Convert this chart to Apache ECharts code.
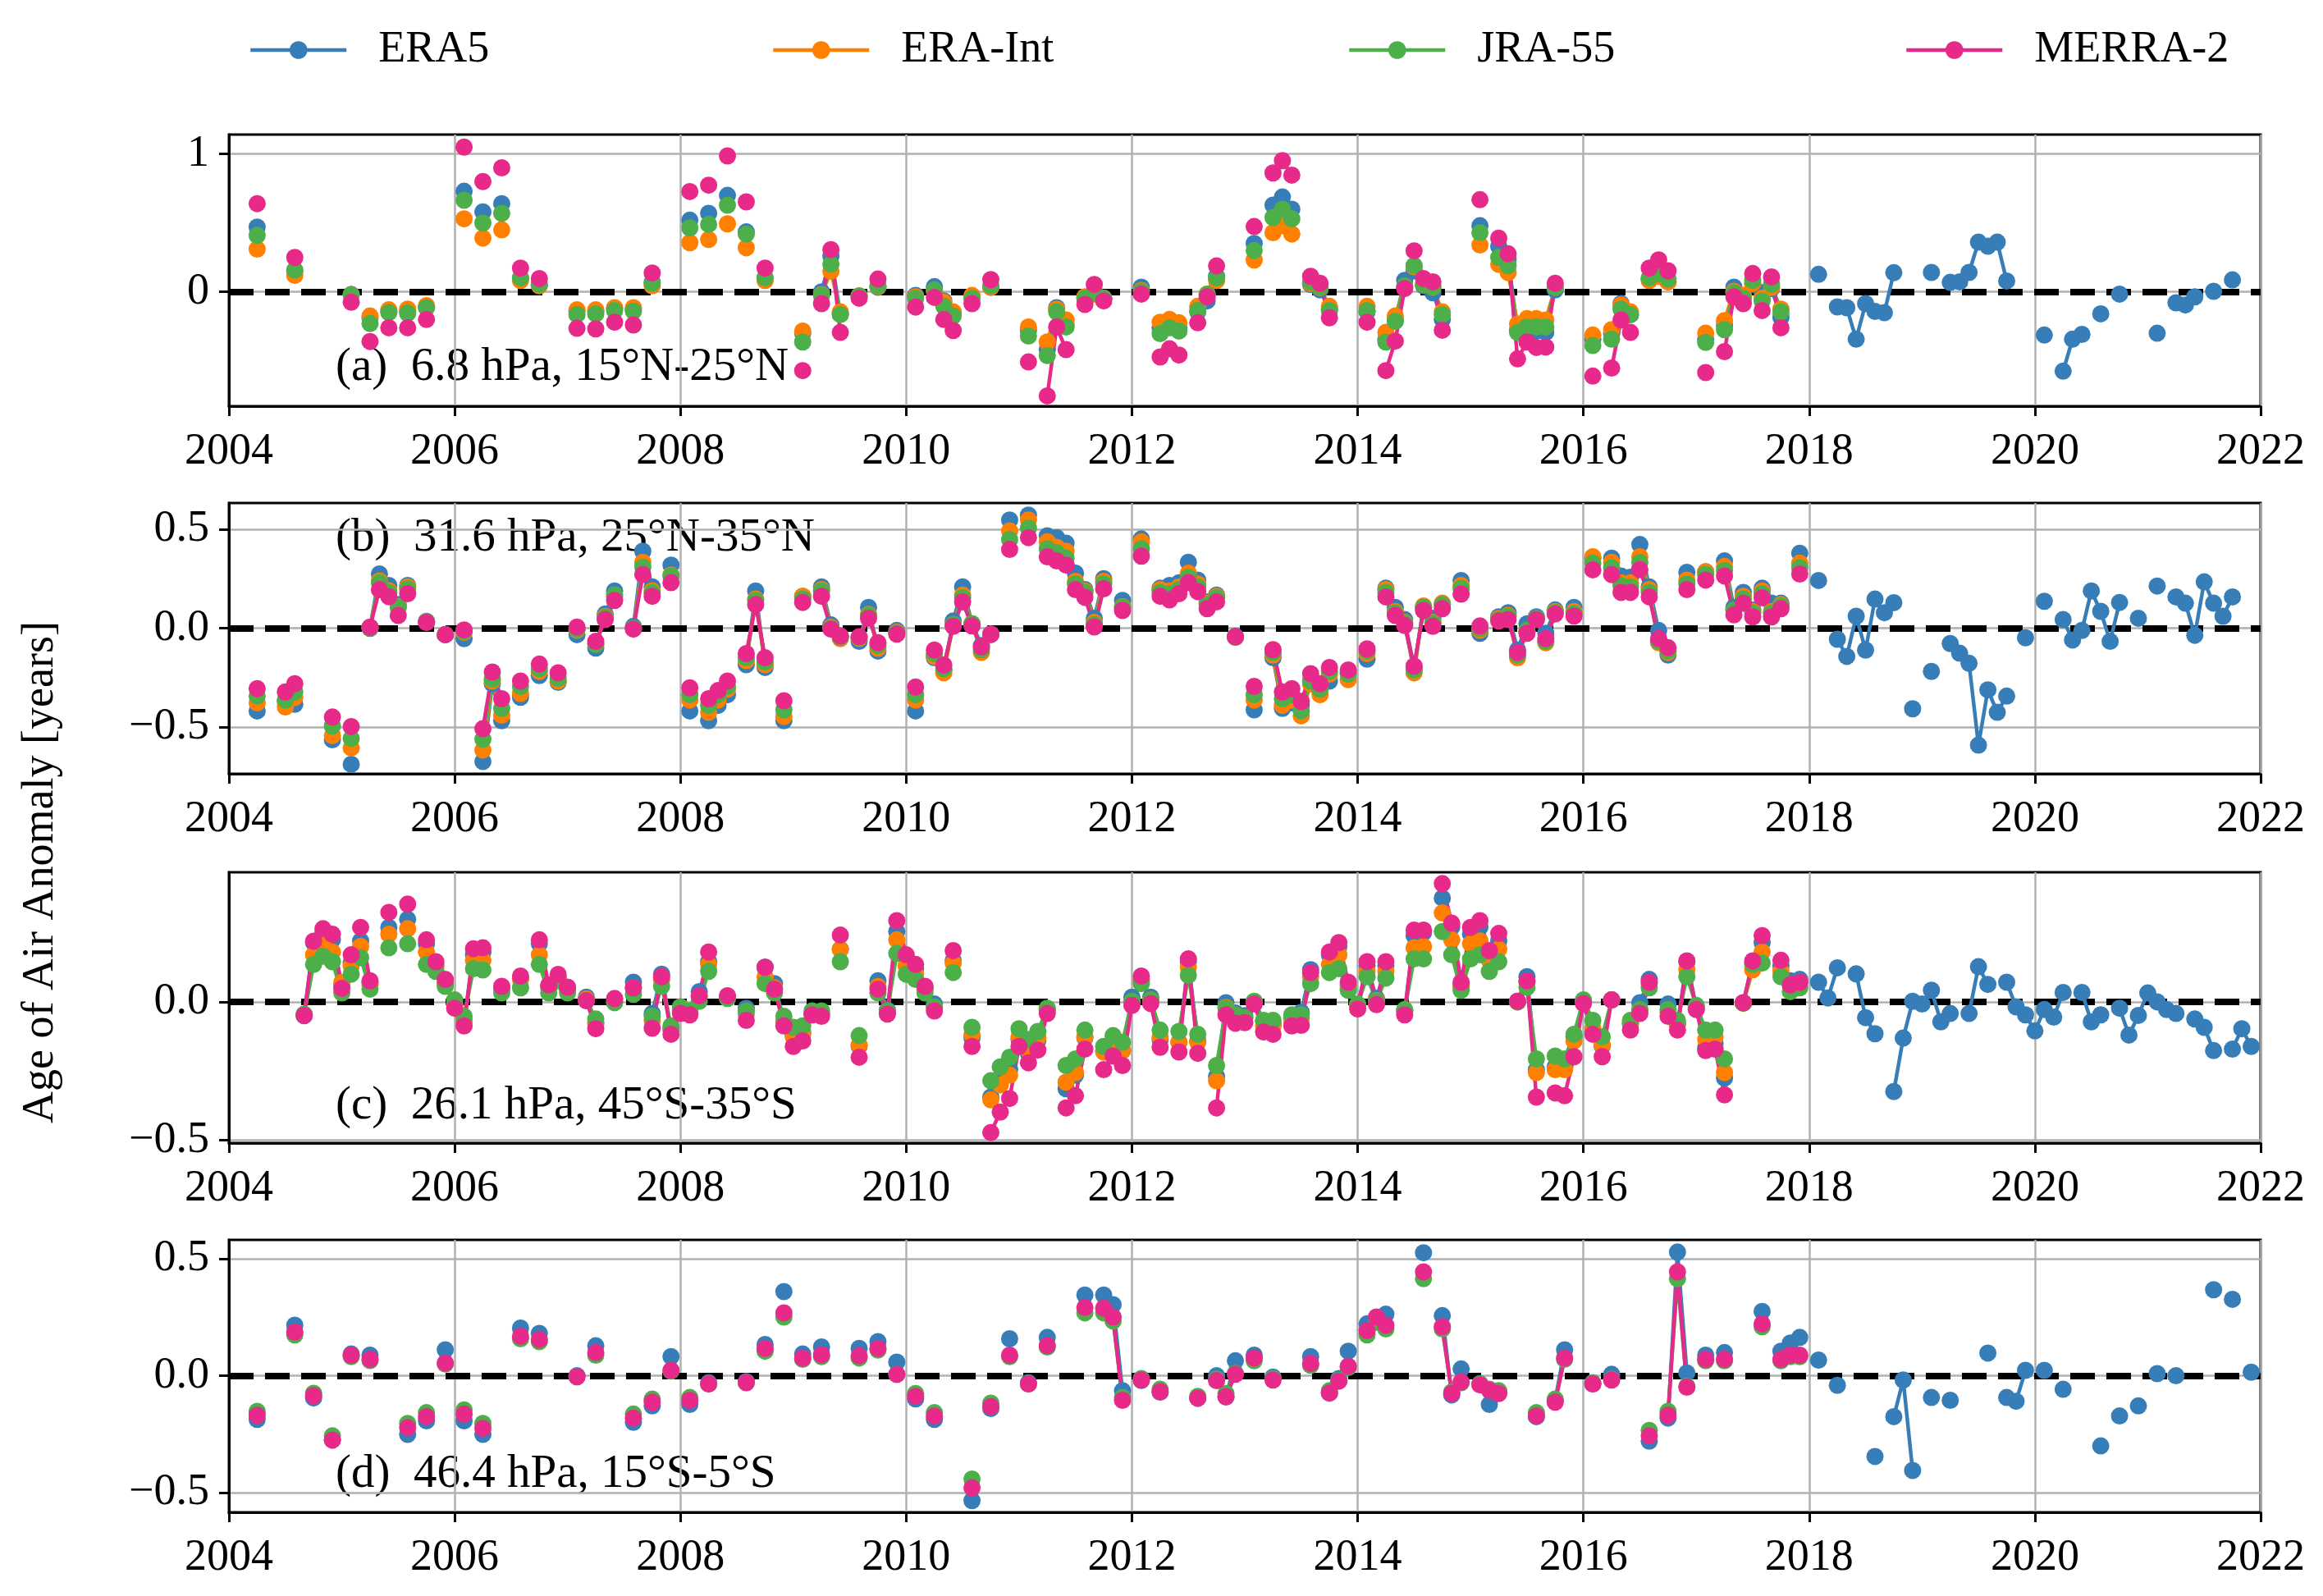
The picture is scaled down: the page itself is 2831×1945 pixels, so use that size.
<!DOCTYPE html>
<html><head><meta charset="utf-8">
<script src="https://cdn.jsdelivr.net/npm/echarts@6/dist/echarts.min.js"></script>
<style>html,body{margin:0;padding:0;background:#fff}#c{width:2831px;height:1945px}</style>
</head><body><div id="c"></div>
<script>
const seriesNames = ['ERA5', 'ERA-Int', 'JRA-55', 'MERRA-2'];
const seriesColors = ['#377eb8', '#ff7f00', '#4daf4a', '#e7298a'];
const panelLabels = ['(a)  6.8 hPa, 15°N-25°N', '(b)  31.6 hPa, 25°N-35°N', '(c)  26.1 hPa, 45°S-35°S', '(d)  46.4 hPa, 15°S-5°S'];
const yTicksA = [0, 1];
const yTicksB = [-0.5, 0, 0.5];
const yTicksC = [-0.5, 0];
const yTicksD = [-0.5, 0, 0.5];
const yTitle = 'Age of Air Anomaly [years]';

// ---------- Panel (a) ----------
const a_months = ['2004-04','2004-08',
'2005-02','2005-04','2005-06','2005-08','2005-10',
'2006-02','2006-04','2006-06','2006-08','2006-10',
'2007-02','2007-04','2007-06','2007-08','2007-10',
'2008-02','2008-04','2008-06','2008-08','2008-10',
'2009-02','2009-04','2009-05','2009-06','2009-08','2009-10',
'2010-02','2010-04','2010-05','2010-06','2010-08','2010-10',
'2011-02','2011-04','2011-05','2011-06','2011-08','2011-09','2011-10',
'2012-02','2012-04','2012-05','2012-06','2012-08','2012-09','2012-10',
'2013-02','2013-04','2013-05','2013-06','2013-08','2013-09','2013-10',
'2014-02','2014-04','2014-05','2014-06','2014-07','2014-08','2014-09','2014-10',
'2015-02','2015-04','2015-05','2015-06','2015-07','2015-08','2015-09','2015-10',
'2016-02','2016-04','2016-05','2016-06','2016-08','2016-09','2016-10',
'2017-02','2017-04','2017-05','2017-06','2017-07','2017-08','2017-09','2017-10'];
const a_era5 = [0.47,0.15,
-0.02,-0.19,-0.14,-0.14,-0.11,
0.73,0.58,0.64,0.10,0.05,
-0.14,-0.14,-0.12,-0.13,0.07,
0.52,0.57,0.70,0.435,0.10,
-0.30,0.0,0.26,-0.16,-0.03,0.034,
-0.025,0.038,-0.065,-0.155,-0.036,0.034,
-0.28,-0.42,-0.115,-0.24,-0.046,0.0,-0.046,
0.034,-0.26,-0.244,-0.26,-0.145,-0.065,0.113,
0.351,0.629,0.688,0.60,0.054,0.014,-0.125,
-0.145,-0.343,-0.204,0.083,0.153,0.044,-0.006,-0.2,
0.48,0.33,0.24,-0.28,-0.254,-0.284,-0.294,0.014,
-0.343,-0.303,-0.085,-0.165,0.093,0.12,0.073,
-0.343,-0.244,0.034,-0.03,0.054,-0.006,0.024,-0.185];
const a_eraint = [0.31,0.12,
-0.02,-0.175,-0.13,-0.125,-0.10,
0.53,0.39,0.45,0.083,0.044,
-0.13,-0.13,-0.115,-0.115,0.044,
0.357,0.38,0.494,0.32,0.083,
-0.284,-0.02,0.15,-0.145,-0.03,0.04,
-0.036,0.004,-0.075,-0.145,-0.026,0.034,
-0.254,-0.363,-0.125,-0.204,-0.036,-0.016,-0.046,
0.01,-0.22,-0.2,-0.224,-0.105,-0.016,0.083,
0.232,0.43,0.48,0.42,0.063,0.03,-0.105,
-0.105,-0.294,-0.175,0.034,0.183,0.054,0.034,-0.145,
0.34,0.20,0.14,-0.234,-0.194,-0.194,-0.204,0.034,
-0.313,-0.274,-0.095,-0.145,0.083,0.113,0.073,
-0.30,-0.208,0.004,-0.026,0.063,-0.046,0.034,-0.125];
const a_jra55 = [0.41,0.16,
-0.02,-0.23,-0.15,-0.155,-0.115,
0.665,0.50,0.57,0.103,0.054,
-0.165,-0.16,-0.135,-0.14,0.063,
0.464,0.49,0.629,0.42,0.103,
-0.363,-0.025,0.20,-0.165,-0.03,0.044,
-0.046,0.014,-0.105,-0.175,-0.046,0.044,
-0.32,-0.462,-0.145,-0.254,-0.046,-0.006,-0.046,
0.004,-0.303,-0.26,-0.284,-0.135,-0.016,0.103,
0.30,0.54,0.60,0.53,0.073,0.034,-0.135,
-0.135,-0.363,-0.214,0.044,0.19,0.054,0.034,-0.165,
0.43,0.25,0.19,-0.294,-0.254,-0.254,-0.254,0.034,
-0.389,-0.343,-0.125,-0.165,0.103,0.133,0.093,
-0.367,-0.274,-0.006,-0.046,0.083,-0.065,0.054,-0.145];
const a_merra2 = [0.64,0.25,
-0.075,-0.36,-0.26,-0.26,-0.20,
1.05,0.80,0.90,0.173,0.097,
-0.264,-0.268,-0.22,-0.24,0.137,
0.728,0.774,0.986,0.653,0.173,
-0.571,-0.085,0.307,-0.294,-0.046,0.093,
-0.11,-0.04,-0.20,-0.28,-0.085,0.089,
-0.508,-0.754,-0.254,-0.419,-0.091,0.054,-0.065,
-0.016,-0.472,-0.413,-0.458,-0.224,-0.036,0.188,
0.474,0.863,0.952,0.847,0.113,0.063,-0.188,
-0.22,-0.571,-0.357,0.024,0.298,0.097,0.073,-0.278,
0.669,0.39,0.276,-0.486,-0.363,-0.403,-0.40,0.063,
-0.611,-0.552,-0.204,-0.294,0.173,0.232,0.153,
-0.585,-0.433,-0.036,-0.085,0.133,-0.135,0.109,-0.26];
const a_months_late = ['2018-02','2018-04','2018-05','2018-06','2018-07','2018-08','2018-09','2018-10',
'2019-02','2019-04','2019-05','2019-06','2019-07','2019-08','2019-09','2019-10',
'2020-02','2020-04','2020-05','2020-06','2020-08','2020-10',
'2021-02','2021-04','2021-05','2021-06','2021-08','2021-10'];
const a_era5_late = [0.127,-0.109,-0.115,-0.343,-0.085,-0.141,-0.151,0.139,
0.141,0.069,0.073,0.141,0.361,0.331,0.361,0.079,
-0.313,-0.575,-0.343,-0.308,-0.159,-0.016,
-0.30,-0.079,-0.095,-0.036,0.004,0.087];

// ---------- Panel (b) ----------
const b_months = ['2004-04','2004-07','2004-08','2004-12',
'2005-02','2005-04','2005-05','2005-06','2005-07','2005-08','2005-10','2005-12',
'2006-02','2006-04','2006-05','2006-06','2006-08','2006-10','2006-12',
'2007-02','2007-04','2007-05','2007-06','2007-08','2007-09','2007-10','2007-12',
'2008-02','2008-04','2008-05','2008-06','2008-08','2008-09','2008-10','2008-12',
'2009-02','2009-04','2009-05','2009-06','2009-08','2009-09','2009-10','2009-12',
'2010-02','2010-04','2010-05','2010-06','2010-07','2010-08','2010-09','2010-10','2010-12',
'2011-02','2011-04','2011-05','2011-06','2011-07','2011-08','2011-09','2011-10','2011-12',
'2012-02','2012-04','2012-05','2012-06','2012-07','2012-08','2012-09','2012-10','2012-12',
'2013-02','2013-04','2013-05','2013-06','2013-07','2013-08','2013-09','2013-10','2013-12',
'2014-02','2014-04','2014-05','2014-06','2014-07','2014-08','2014-09','2014-10','2014-12',
'2015-02','2015-04','2015-05','2015-06','2015-07','2015-08','2015-09','2015-10','2015-12',
'2016-02','2016-04','2016-05','2016-06','2016-07','2016-08','2016-09','2016-10','2016-12',
'2017-02','2017-04','2017-05','2017-06','2017-07','2017-08','2017-09','2017-10','2017-12'];
const b_era5 = [-0.418,-0.37,-0.384,-0.564,
-0.688,0.0,0.275,0.217,0.12,0.217,0.035,-0.032,
-0.052,-0.674,-0.28,-0.467,-0.349,-0.239,-0.273,
-0.032,-0.1,0.072,0.189,0.01,0.39,0.21,0.32,
-0.418,-0.467,-0.39,-0.336,-0.184,0.189,-0.198,-0.467,
0.162,0.21,0.017,-0.04,-0.066,0.106,-0.115,-0.011,
-0.418,-0.149,-0.211,0.037,0.21,0.023,-0.087,-0.032,0.548,
0.573,0.468,0.459,0.431,0.279,0.196,0.051,0.251,0.141,
0.452,0.203,0.217,0.23,0.334,0.244,0.134,0.168,-0.04,
-0.412,-0.149,-0.405,-0.377,-0.39,-0.267,-0.294,-0.267,-0.225,
-0.156,0.203,0.106,0.044,-0.2,0.106,0.051,0.12,0.242,
-0.025,0.058,0.079,-0.11,0.023,0.058,-0.025,0.093,0.106,
0.355,0.355,0.265,0.258,0.424,0.21,-0.011,-0.135,0.283,
0.286,0.341,0.106,0.182,0.092,0.203,0.127,0.127,0.38];
const b_eraint = [-0.377,-0.398,-0.35,-0.543,
-0.605,0.003,0.24,0.19,0.11,0.21,0.032,-0.032,
-0.02,-0.616,-0.267,-0.439,-0.329,-0.218,-0.267,
-0.01,-0.08,0.06,0.16,0.0,0.334,0.19,0.27,
-0.363,-0.425,-0.363,-0.308,-0.163,0.148,-0.184,-0.446,
0.162,0.196,0.005,-0.052,-0.05,0.07,-0.101,-0.02,
-0.363,-0.142,-0.225,0.02,0.168,0.023,-0.122,-0.03,0.493,
0.548,0.438,0.41,0.39,0.238,0.189,0.03,0.238,0.11,
0.438,0.196,0.189,0.21,0.279,0.224,0.127,0.162,-0.045,
-0.363,-0.135,-0.39,-0.363,-0.443,-0.281,-0.336,-0.232,-0.26,
-0.128,0.196,0.085,0.03,-0.225,0.113,0.03,0.127,0.217,
-0.01,0.05,0.065,-0.149,-0.015,0.05,-0.073,0.085,0.085,
0.362,0.334,0.23,0.23,0.362,0.196,-0.073,-0.122,0.244,
0.286,0.313,0.09,0.162,0.085,0.189,0.085,0.12,0.33];
const b_jra55 = [-0.343,-0.363,-0.322,-0.494,
-0.557,0.003,0.23,0.18,0.106,0.20,0.032,-0.032,
-0.015,-0.561,-0.257,-0.405,-0.294,-0.204,-0.253,
-0.005,-0.08,0.055,0.17,0.0,0.31,0.18,0.265,
-0.336,-0.39,-0.336,-0.294,-0.149,0.141,-0.17,-0.412,
0.148,0.189,0.0,-0.045,-0.045,0.065,-0.087,-0.025,
-0.336,-0.128,-0.204,0.02,0.155,0.023,-0.108,-0.03,0.449,
0.507,0.403,0.383,0.355,0.224,0.182,0.02,0.224,0.106,
0.403,0.182,0.175,0.196,0.258,0.21,0.12,0.155,-0.045,
-0.336,-0.121,-0.356,-0.336,-0.418,-0.267,-0.308,-0.218,-0.232,
-0.115,0.182,0.078,0.025,-0.211,0.106,0.025,0.12,0.203,
0.0,0.045,0.06,-0.135,-0.011,0.05,-0.066,0.08,0.075,
0.33,0.306,0.217,0.21,0.334,0.182,-0.066,-0.115,0.224,
0.272,0.293,0.092,0.148,0.078,0.175,0.078,0.113,0.306];
const b_merra2 = [-0.305,-0.322,-0.28,-0.449,
-0.497,0.006,0.196,0.16,0.065,0.175,0.03,-0.032,
-0.008,-0.508,-0.221,-0.356,-0.267,-0.181,-0.225,
0.006,-0.066,0.044,0.141,-0.004,0.272,0.162,0.231,
-0.301,-0.356,-0.315,-0.267,-0.128,0.12,-0.149,-0.366,
0.131,0.162,-0.004,-0.039,-0.043,0.051,-0.073,-0.029,
-0.297,-0.11,-0.186,0.01,0.134,0.012,-0.094,-0.029,0.399,
0.459,0.362,0.341,0.32,0.196,0.157,0.007,0.2,0.09,
0.365,0.162,0.144,0.175,0.231,0.186,0.099,0.134,-0.043,
-0.294,-0.108,-0.322,-0.305,-0.37,-0.229,-0.28,-0.198,-0.211,
-0.104,0.159,0.065,0.014,-0.191,0.09,0.01,0.099,0.173,
0.012,0.037,0.044,-0.122,-0.025,0.044,-0.052,0.072,0.062,
0.296,0.272,0.182,0.182,0.297,0.159,-0.052,-0.098,0.196,
0.244,0.265,0.068,0.127,0.058,0.155,0.058,0.099,0.275];
const b_months_late = ['2018-02','2018-04','2018-05','2018-06','2018-07','2018-08','2018-09','2018-10','2018-12',
'2019-02','2019-04','2019-05','2019-06','2019-07','2019-08','2019-09','2019-10','2019-12',
'2020-02','2020-04','2020-05','2020-06','2020-07','2020-08','2020-09','2020-10','2020-12',
'2021-02','2021-04','2021-05','2021-06','2021-07','2021-08','2021-09','2021-10'];
const b_era5_late = [0.242,-0.055,-0.142,0.061,-0.11,0.148,0.079,0.13,-0.407,
-0.218,-0.077,-0.126,-0.177,-0.591,-0.311,-0.425,-0.343,-0.048,
0.137,0.044,-0.059,-0.011,0.189,0.086,-0.066,0.131,0.051,
0.214,0.159,0.127,-0.035,0.235,0.127,0.061,0.159];

// ---------- Panel (c) ----------
const c_months = ['2004-09','2004-10','2004-11','2004-12',
'2005-01','2005-02','2005-03','2005-04','2005-06','2005-08','2005-10','2005-11','2005-12',
'2006-01','2006-02','2006-03','2006-04','2006-06','2006-08','2006-10','2006-11','2006-12',
'2007-01','2007-03','2007-04','2007-06','2007-08','2007-10','2007-11','2007-12',
'2008-01','2008-02','2008-03','2008-04','2008-06','2008-08','2008-10','2008-11','2008-12',
'2009-01','2009-02','2009-03','2009-04','2009-06','2009-08','2009-10','2009-11','2009-12',
'2010-01','2010-02','2010-03','2010-04','2010-06','2010-08','2010-10','2010-11','2010-12',
'2011-01','2011-02','2011-03','2011-04','2011-06','2011-07','2011-08','2011-10','2011-11','2011-12',
'2012-01','2012-02','2012-03','2012-04','2012-06','2012-07','2012-08','2012-10','2012-11','2012-12',
'2013-01','2013-02','2013-03','2013-04','2013-06','2013-07','2013-08','2013-10','2013-11','2013-12',
'2014-01','2014-02','2014-03','2014-04','2014-06','2014-07','2014-08','2014-10','2014-11','2014-12',
'2015-01','2015-02','2015-03','2015-04','2015-06','2015-07','2015-08','2015-10','2015-11','2015-12',
'2016-01','2016-02','2016-03','2016-04','2016-06','2016-07','2016-08','2016-10','2016-11','2016-12',
'2017-01','2017-02','2017-03','2017-04','2017-06','2017-07','2017-08','2017-10','2017-11','2017-12'];
const c_era5 = [-0.05,0.214,0.25,0.225,
0.06,0.14,0.22,0.07,0.269,0.298,0.21,0.13,0.07,
-0.008,-0.067,0.17,0.18,0.05,0.085,0.21,0.05,0.09,
0.045,0.017,-0.075,0.01,0.071,-0.042,0.1,-0.1,
-0.03,-0.04,0.037,0.145,0.02,-0.023,0.125,0.066,-0.07,
-0.12,-0.11,-0.04,-0.04,0.19,-0.16,0.076,-0.03,0.254,
0.16,0.12,0.05,-0.008,0.15,-0.13,-0.344,-0.285,-0.245,
-0.136,-0.186,-0.14,-0.03,-0.314,-0.265,-0.13,-0.176,-0.15,-0.176,
0.017,0.075,0.017,-0.136,-0.146,0.145,-0.14,-0.27,-0.003,-0.04,
-0.05,0.0,-0.07,-0.08,-0.06,-0.038,0.116,0.17,0.2,0.06,
-0.01,0.13,0.012,0.13,-0.032,0.239,0.25,0.375,0.27,0.06,
0.245,0.27,0.17,0.22,0.002,0.091,-0.245,-0.235,-0.24,-0.126,
0.002,-0.107,-0.16,0.007,-0.08,-0.003,0.081,-0.008,-0.08,0.145,
-0.02,-0.166,-0.151,-0.275,-0.003,0.141,0.214,0.13,0.076,0.081];
const c_eraint = [-0.045,0.17,0.21,0.18,
0.07,0.13,0.2,0.06,0.244,0.264,0.18,0.13,0.065,
-0.01,-0.07,0.15,0.15,0.046,0.08,0.17,0.056,0.086,
0.04,0.01,-0.08,0.0,0.05,-0.067,0.08,-0.097,
-0.035,-0.04,0.02,0.135,0.015,-0.045,0.09,0.05,-0.075,
-0.126,-0.116,-0.045,-0.045,0.19,-0.156,0.055,-0.04,0.224,
0.13,0.10,0.042,-0.02,0.14,-0.117,-0.354,-0.3,-0.265,
-0.126,-0.176,-0.13,-0.028,-0.29,-0.255,-0.126,-0.181,-0.166,-0.176,
0.0,0.081,0.007,-0.126,-0.146,0.125,-0.146,-0.285,-0.02,-0.05,
-0.058,0.0,-0.087,-0.087,-0.07,-0.06,0.091,0.135,0.17,0.05,
-0.015,0.11,0.005,0.11,-0.035,0.195,0.2,0.321,0.224,0.055,
0.21,0.22,0.15,0.19,0.0,0.07,-0.255,-0.245,-0.245,-0.141,
0.0,-0.097,-0.156,0.007,-0.077,-0.03,0.066,-0.037,-0.082,0.116,
-0.025,-0.136,-0.126,-0.255,-0.005,0.116,0.18,0.11,0.06,0.07];
const c_jra55 = [-0.045,0.135,0.165,0.145,
0.032,0.10,0.16,0.046,0.195,0.21,0.135,0.11,0.056,
0.007,-0.052,0.12,0.115,0.032,0.051,0.135,0.032,0.076,
0.032,0.005,-0.062,-0.003,0.027,-0.052,0.056,-0.087,
-0.018,-0.033,0.002,0.11,0.012,-0.033,0.066,0.032,-0.052,
-0.092,-0.087,-0.033,-0.033,0.145,-0.122,0.032,-0.033,0.175,
0.10,0.081,0.032,-0.018,0.106,-0.092,-0.285,-0.235,-0.2,
-0.097,-0.136,-0.107,-0.023,-0.23,-0.206,-0.102,-0.161,-0.122,-0.146,
0.002,0.066,0.007,-0.102,-0.107,0.096,-0.117,-0.23,-0.023,-0.047,
-0.057,0.002,-0.067,-0.067,-0.047,-0.047,0.066,0.106,0.12,0.042,
-0.008,0.091,0.002,0.086,-0.028,0.155,0.155,0.254,0.17,0.042,
0.155,0.17,0.11,0.145,0.0,0.052,-0.206,-0.196,-0.206,-0.117,
0.007,-0.067,-0.126,0.007,-0.067,-0.028,0.051,-0.028,-0.067,0.091,
-0.013,-0.102,-0.102,-0.206,-0.005,0.135,0.14,0.091,0.037,0.051];
const c_merra2 = [-0.049,0.219,0.264,0.244,
0.049,0.17,0.269,0.076,0.323,0.353,0.224,0.145,0.081,
-0.023,-0.087,0.192,0.195,0.056,0.093,0.224,0.061,0.099,
0.053,0.004,-0.097,0.012,0.051,-0.095,0.091,-0.117,
-0.042,-0.047,0.022,0.18,0.022,-0.067,0.125,0.046,-0.087,
-0.161,-0.141,-0.047,-0.052,0.241,-0.2,0.046,-0.044,0.293,
0.17,0.135,0.056,-0.033,0.185,-0.161,-0.472,-0.398,-0.349,
-0.161,-0.22,-0.174,-0.042,-0.383,-0.339,-0.171,-0.245,-0.196,-0.23,
-0.013,0.093,-0.006,-0.164,-0.181,0.155,-0.186,-0.383,-0.047,-0.077,
-0.075,-0.008,-0.109,-0.117,-0.087,-0.085,0.106,0.18,0.214,0.071,
-0.026,0.145,-0.01,0.145,-0.047,0.259,0.259,0.427,0.284,0.071,
0.269,0.293,0.185,0.247,0.002,0.076,-0.344,-0.329,-0.339,-0.198,
-0.006,-0.117,-0.198,0.007,-0.102,-0.042,0.071,-0.052,-0.102,0.148,
-0.028,-0.176,-0.171,-0.336,-0.003,0.148,0.239,0.15,0.061,0.071];
const c_months_late = ['2018-02','2018-03','2018-04','2018-06','2018-07','2018-08','2018-10','2018-11','2018-12',
'2019-01','2019-02','2019-03','2019-04','2019-06','2019-07','2019-08','2019-10','2019-11','2019-12',
'2020-01','2020-02','2020-03','2020-04','2020-06','2020-07','2020-08','2020-10','2020-11','2020-12',
'2021-01','2021-02','2021-03','2021-04','2021-06','2021-07','2021-08','2021-10','2021-11','2021-12'];
const c_era5_late = [0.071,0.014,0.123,0.101,-0.057,-0.115,-0.324,-0.131,0.002,
-0.008,0.042,-0.072,-0.042,-0.042,0.127,0.063,0.071,-0.018,-0.047,
-0.105,-0.028,-0.055,0.034,0.034,-0.072,-0.047,-0.023,-0.12,-0.049,
0.032,0.0,-0.028,-0.042,-0.062,-0.092,-0.176,-0.171,-0.097,-0.161];

// ---------- Panel (d) ----------
const d_months = ['2004-04','2004-08','2004-10','2004-12',
'2005-02','2005-04','2005-08','2005-10','2005-12',
'2006-02','2006-04','2006-08','2006-10',
'2007-02','2007-04','2007-08','2007-10','2007-12',
'2008-02','2008-04','2008-08','2008-10','2008-12',
'2009-02','2009-04','2009-08','2009-10','2009-12',
'2010-02','2010-04','2010-08','2010-10','2010-12',
'2011-02','2011-04','2011-08','2011-10','2011-11','2011-12',
'2012-02','2012-04','2012-08','2012-10','2012-11','2012-12',
'2013-02','2013-04','2013-08','2013-10','2013-11','2013-12',
'2014-02','2014-03','2014-04','2014-08','2014-10','2014-11','2014-12',
'2015-02','2015-03','2015-04','2015-08','2015-10','2015-11',
'2016-02','2016-04','2016-08','2016-10','2016-11','2016-12',
'2017-02','2017-04','2017-08','2017-10','2017-11','2017-12'];
const d_era5 = [-0.187,0.216,-0.095,-0.275,
0.093,0.088,-0.251,-0.193,0.111,
-0.193,-0.251,0.204,0.181,
0.0,0.128,-0.199,-0.129,0.082,
-0.123,-0.03,-0.025,0.134,0.36,
0.093,0.123,0.117,0.146,0.058,
-0.099,-0.187,-0.534,-0.14,0.158,
-0.03,0.164,0.345,0.345,0.304,-0.064,
-0.02,-0.07,-0.096,0.0,-0.09,0.064,
0.088,-0.006,0.082,-0.074,-0.012,0.105,
0.222,0.245,0.263,0.526,0.257,-0.082,0.029,
-0.035,-0.123,-0.07,-0.175,-0.105,0.111,
-0.035,0.006,-0.28,-0.181,0.529,0.012,
0.088,0.099,0.275,0.105,0.14,0.164];
const d_jra55 = [-0.152,0.175,-0.075,-0.257,
0.082,0.065,-0.204,-0.158,0.05,
-0.146,-0.204,0.158,0.146,
-0.004,0.088,-0.164,-0.1,0.02,
-0.093,-0.035,-0.03,0.105,0.251,
0.07,0.082,0.076,0.11,0.006,
-0.076,-0.158,-0.442,-0.117,0.082,
-0.035,0.123,0.269,0.269,0.234,-0.093,
-0.012,-0.058,-0.088,-0.015,-0.076,0.01,
0.064,-0.012,0.045,-0.064,-0.02,0.035,
0.175,0.228,0.2,0.415,0.2,-0.07,-0.03,
-0.035,-0.058,-0.064,-0.158,-0.1,0.07,
-0.03,-0.015,-0.234,-0.152,0.415,-0.045,
0.064,0.064,0.21,0.064,0.082,0.082];
const d_merra2 = [-0.169,0.187,-0.085,-0.275,
0.088,0.07,-0.222,-0.175,0.055,
-0.164,-0.225,0.169,0.155,
-0.004,0.099,-0.181,-0.113,0.023,
-0.105,-0.035,-0.029,0.117,0.269,
0.076,0.09,0.085,0.117,0.006,
-0.088,-0.173,-0.479,-0.132,0.088,
-0.035,0.129,0.292,0.289,0.251,-0.105,
-0.018,-0.068,-0.096,-0.021,-0.09,0.006,
0.076,-0.018,0.053,-0.074,-0.023,0.041,
0.193,0.251,0.216,0.444,0.21,-0.076,-0.027,
-0.039,-0.062,-0.076,-0.172,-0.113,0.076,
-0.035,-0.018,-0.257,-0.169,0.444,-0.049,
0.07,0.07,0.222,0.07,0.088,0.088];
const d_months_late = ['2018-02','2018-04','2018-08','2018-10','2018-11','2018-12',
'2019-02','2019-04','2019-08','2019-10','2019-11','2019-12',
'2020-02','2020-04','2020-08','2020-10','2020-12',
'2021-02','2021-04','2021-08','2021-10','2021-12'];
const d_era5_late = [0.067,-0.041,-0.345,-0.175,-0.018,-0.405,
-0.093,-0.105,0.097,-0.093,-0.109,0.023,
0.023,-0.058,-0.3,-0.172,-0.129,
0.009,0.0,0.368,0.327,0.015];

// ---------- helpers ----------
function monthIdx(m) { const p = m.split('-'); return (+p[0]) * 12 + (+p[1]) - 1; }
function toX(m) { const p = m.split('-'); return (+p[0]) + ((+p[1]) - 1) / 12; }
function build(months, values) {
  const out = []; let prev = null;
  months.forEach((m, i) => {
    const v = values[i];
    if (v === null || v === undefined) { prev = null; return; }
    const k = monthIdx(m);
    if (prev !== null && k - prev > 1) out.push([toX(m) - 0.04, '-']);
    out.push([toX(m), v]);
    prev = k;
  });
  return out;
}

const panels = [
  { months: a_months, vals: [a_era5, a_eraint, a_jra55, a_merra2], late: a_months_late, lateVals: a_era5_late,
    top: 164, height: 331, min: -0.829, max: 1.141, ticks: yTicksA, dec: 0, label: panelLabels[0], labelY: 452 },
  { months: b_months, vals: [b_era5, b_eraint, b_jra55, b_merra2], late: b_months_late, lateVals: b_era5_late,
    top: 613, height: 330, min: -0.736, max: 0.634, ticks: yTicksB, dec: 1, label: panelLabels[1], labelY: 660 },
  { months: c_months, vals: [c_era5, c_eraint, c_jra55, c_merra2], late: c_months_late, lateVals: c_era5_late,
    top: 1063, height: 330, min: -0.51, max: 0.468, ticks: yTicksC, dec: 1, label: panelLabels[2], labelY: 1352 },
  { months: d_months, vals: [d_era5, null, d_jra55, d_merra2], late: d_months_late, lateVals: d_era5_late,
    top: 1511, height: 332, min: -0.584, max: 0.581, ticks: yTicksD, dec: 1, label: panelLabels[3], labelY: 1801 }
];

const FONT = 'Liberation Serif';
const FS = 54;
const grids = [], xAxes = [], yAxes = [], series = [], graphics = [];
panels.forEach((p, i) => {
  grids.push({ left: 279, right: 2831 - 2755, top: p.top, height: p.height, show: true,
    borderColor: '#000', borderWidth: 3, backgroundColor: 'transparent' });
  xAxes.push({ type: 'value', gridIndex: i, min: 2004, max: 2022, interval: 2,
    axisLine: { show: true, onZero: false, lineStyle: { color: '#000', width: 3 } },
    axisTick: { show: true, inside: false, length: 12, lineStyle: { color: '#000', width: 3 } },
    axisLabel: { show: true, margin: 29, color: '#000', fontFamily: FONT, fontSize: FS, formatter: v => String(v) },
    splitLine: { show: true, lineStyle: { color: '#b0b0b0', width: 2.5 } } });
  yAxes.push({ type: 'value', gridIndex: i, min: p.min, max: p.max,
    axisLine: { show: true, onZero: false, lineStyle: { color: '#000', width: 3 } },
    axisTick: { show: true, inside: false, length: 12, lineStyle: { color: '#000', width: 3 }, customValues: p.ticks },
    axisLabel: { show: true, margin: 24, color: '#000', fontFamily: FONT, fontSize: FS, customValues: p.ticks,
      formatter: v => Number(v).toFixed(p.dec).replace('-', '\u2212') },
    splitLine: { show: true, lineStyle: { color: '#b0b0b0', width: 2.5 } } });
  p.vals.forEach((vals, s) => {
    if (!vals) return;
    let months = p.months, values = vals;
    if (s === 0) { months = p.months.concat(p.late); values = vals.concat(p.lateVals); }
    const ser = {
      name: seriesNames[s], type: 'line', xAxisIndex: i, yAxisIndex: i,
      data: build(months, values), connectNulls: false,
      symbol: 'circle', symbolSize: 21, showSymbol: true, showAllSymbol: true,
      itemStyle: { color: seriesColors[s], borderWidth: 0 },
      lineStyle: { color: seriesColors[s], width: 4.5 },
      emphasis: { disabled: true }, animation: false, silent: true
    };
    if (s === 0) {
      ser.markLine = { silent: true, symbol: ['none', 'none'], z: 1, animation: false,
        label: { show: false },
        lineStyle: { color: '#000', width: 8, type: [30, 14] },
        data: [{ yAxis: 0 }] };
    }
    series.push(ser);
  });
  graphics.push({ type: 'text', left: 409, top: p.labelY - 32,
    style: { text: p.label, fontFamily: FONT, fontSize: 57, fill: '#000' } });
});

graphics.push({ type: 'text', x: 50, y: 1063, rotation: Math.PI / 2,
  style: { text: yTitle, fontFamily: FONT, fontSize: FS, fill: '#000', align: 'center', verticalAlign: 'middle' } });

const legendLefts = [298, 935, 1637, 2316];
const legends = seriesNames.map((n, k) => ({
  data: [n], left: legendLefts[k], top: 29, orient: 'horizontal',
  itemWidth: 117, itemHeight: 27,
  lineStyle: { width: 4.5 },
  textStyle: { fontFamily: FONT, fontSize: FS, color: '#000', padding: [0, 0, 0, 34] },
  selectedMode: false
}));

const chart = echarts.init(document.getElementById('c'), null, { renderer: 'canvas' });
chart.setOption({
  animation: false,
  backgroundColor: '#fff',
  grid: grids, xAxis: xAxes, yAxis: yAxes, series: series,
  legend: legends, graphic: graphics
});
</script></body></html>
